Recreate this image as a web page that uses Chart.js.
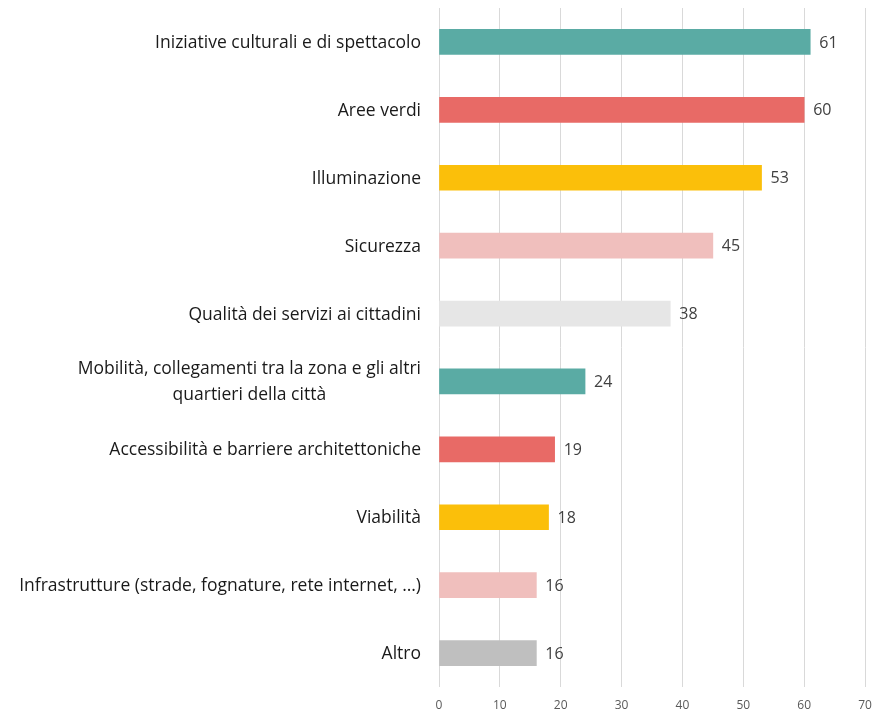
<!DOCTYPE html>
<html>
<head>
<meta charset="utf-8">
<script src="https://cdn.jsdelivr.net/npm/chart.js@4"></script>
<style>
  body { margin: 0; background: #fff; }
  #wrap { width: 883px; height: 715px; }
</style>
</head>
<body>
<div id="wrap"><canvas id="chart" width="883" height="715"></canvas></div>
<script>
// categories, top to bottom
const categories = [
    ["Iniziative culturali e di spettacolo"],
    ["Aree verdi"],
    ["Illuminazione"],
    ["Sicurezza"],
    ["Qualità dei servizi ai cittadini"],
    ["Mobilità, collegamenti tra la zona e gli altri", "quartieri della città"],
    ["Accessibilità e barriere architettoniche"],
    ["Viabilità"],
    ["Infrastrutture (strade, fognature, rete internet, …)"],
    ["Altro"]
];
const values = [61, 60, 53, 45, 38, 24, 19, 18, 16, 16];
const barColors = ["#5aaba4", "#e86a66", "#fbbf0a", "#f0bfbd", "#e6e6e6",
                   "#5aaba4", "#e86a66", "#fbbf0a", "#f0bfbd", "#bfbfbf"];
const xTicks = [0, 10, 20, 30, 40, 50, 60, 70];

const FONT = "'Open Sans', Lato, sans-serif";

// value labels at bar ends
const valueLabels = {
    id: "valueLabels",
    afterDatasetsDraw(chart) {
        const ctx = chart.ctx;
        const meta = chart.getDatasetMeta(0);
        ctx.save();
        ctx.font = "16px " + FONT;
        ctx.fillStyle = "#404040";
        ctx.textAlign = "left";
        ctx.textBaseline = "middle";
        meta.data.forEach((bar, i) => {
            ctx.fillText(values[i], bar.x + 9, bar.y + 1);
        });
        ctx.restore();
    }
};

// category labels: right aligned block, lines centered within it
const catLabels = {
    id: "catLabels",
    afterDraw(chart) {
        const ctx = chart.ctx;
        const y = chart.scales.y;
        const right = chart.chartArea.left - 18;
        ctx.save();
        ctx.font = "17.5px " + FONT;
        ctx.fillStyle = "#1a1a1a";
        ctx.textAlign = "center";
        ctx.textBaseline = "middle";
        categories.forEach((lines, i) => {
            const py = y.getPixelForTick(i) + 1;
            const w = Math.max(...lines.map(l => ctx.measureText(l).width));
            const cx = right - w / 2;
            const lh = 26;
            const top = py - (lines.length - 1) * lh / 2;
            lines.forEach((l, j) => ctx.fillText(l, cx, top + j * lh));
        });
        ctx.restore();
    }
};

new Chart(document.getElementById("chart"), {
    type: "bar",
    data: {
        labels: categories.map(c => c.join(" ")),
        datasets: [{
            data: values,
            backgroundColor: barColors,
            barThickness: 25
        }]
    },
    options: {
        indexAxis: "y",
        responsive: false,
        animation: false,
        layout: { padding: { top: 8, right: 18, left: 0, bottom: 0 } },
        plugins: { legend: { display: false }, tooltip: { enabled: false } },
        scales: {
            x: {
                min: 0,
                max: 70,
                afterBuildTicks(scale) {
                    scale.ticks = xTicks.map(v => ({ value: v }));
                },
                afterFit(scale) { scale.height = 28; },
                grid: { color: "#d9d9d9", lineWidth: 1, drawTicks: false },
                border: { display: false },
                ticks: {
                    padding: 11,
                    color: "#595959",
                    font: { size: 12, family: FONT }
                }
            },
            y: {
                afterFit(scale) { scale.width = 439; },
                grid: { display: false },
                border: { display: false },
                ticks: { display: false }
            }
        }
    },
    plugins: [valueLabels, catLabels]
});
</script>
</body>
</html>
